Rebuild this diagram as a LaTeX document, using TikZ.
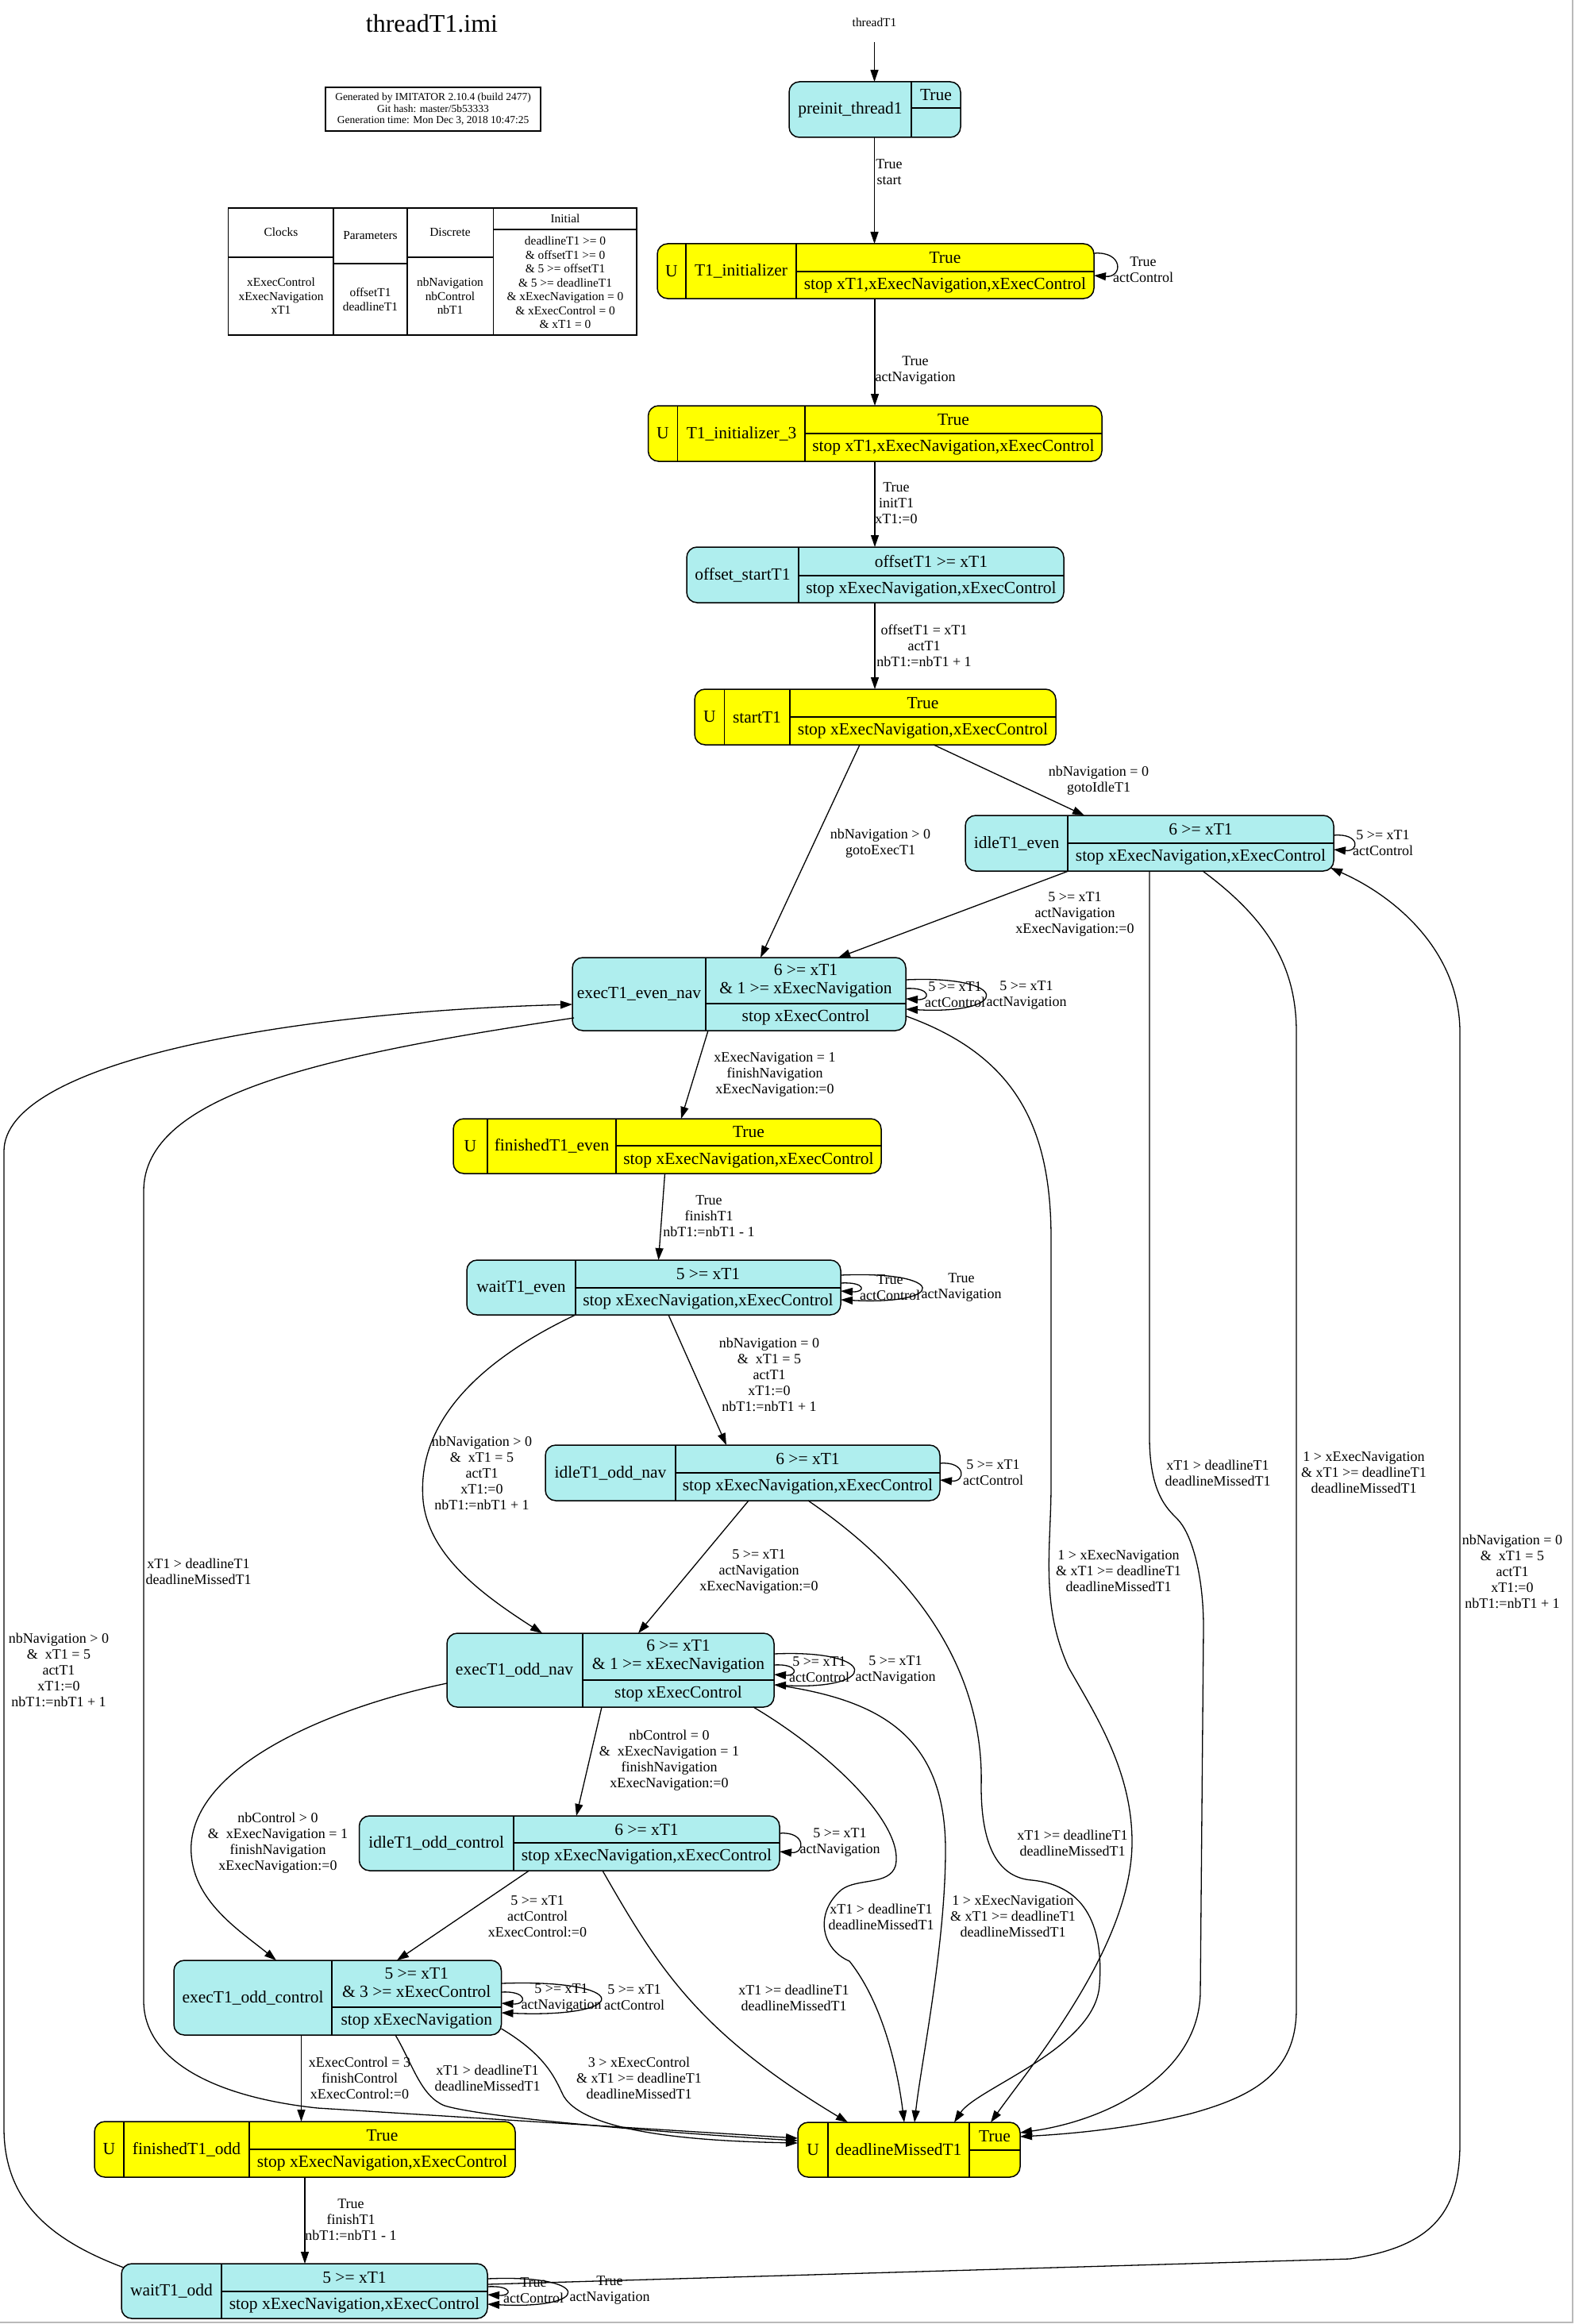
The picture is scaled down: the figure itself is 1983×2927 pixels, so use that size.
\documentclass[tikz,border=0pt]{standalone}
\usepackage{fontspec}
\setmainfont{Liberation Serif}
\usetikzlibrary{calc,arrows.meta}
\definecolor{cyanF}{HTML}{AFEEEE}
\definecolor{yelF}{HTML}{FFFF00}
\begin{document}
\begin{tikzpicture}[x=1pt,y=-1pt,
  box/.style={draw=black, line width=1.5pt, rounded corners=13pt, inner sep=0pt, outer sep=0pt},
  cy/.style={box, fill=cyanF},
  ye/.style={box, fill=yelF},
  dv/.style={line width=1.5pt},
  nt/.style={inner sep=0pt, font=\fontsize{21.5}{22.5}\selectfont, align=center},
  et/.style={inner sep=0pt, font=\fontsize{18}{20}\selectfont, align=center},
  tt/.style={inner sep=0pt, font=\fontsize{15.4}{17.5}\selectfont, align=center},
  ed/.style={line width=1.3pt, -{Triangle[length=15pt,width=10pt]}},
]
\fill[white] (0,0) rectangle (1983,2927);
\useasboundingbox (0,0) rectangle (1983,2927);
\draw[gray!55, line width=1.5pt] (1981,0) -- (1981,2925) -- (0,2925);

% ---------- header ----------
\node[inner sep=0pt, font=\fontsize{32}{34}\selectfont] (title) at (544,30) {threadT1.imi};
\node[draw, line width=1.3pt, minimum width=271pt, minimum height=55pt, inner sep=0pt] (gen) at (545.5,137.5) {};
\node[inner sep=0pt, font=\fontsize{13.5}{14.5}\selectfont, align=center] (gentxt) at (545.5,137.5)
  {Generated by IMITATOR 2.10.4 (build 2477)\\Git hash: master/5b53333\\Generation time: Mon Dec 3, 2018 10:47:25};

% table
\node[draw, line width=1.5pt, minimum width=514.5pt, minimum height=160pt, inner sep=0pt] (tab) at (544.75,342) {};
\draw[dv] (420,262) -- (420,422);
\draw[dv] (513,262) -- (513,422);
\draw[dv] (621.6,262) -- (621.6,422);
\draw[dv] (287.5,324) -- (420,324);
\draw[dv] (420,332) -- (513,332);
\draw[dv] (513,324) -- (621.6,324);
\draw[dv] (621.6,289) -- (802,289);
\node[tt] (thc) at (354,292) {Clocks};
\node[tt] (thp) at (466.5,297) {Parameters};
\node[tt] (thd) at (567,292) {Discrete};
\node[tt] (thi) at (712,275) {Initial};
\node[tt] (tbc) at (354,373) {xExecControl\\xExecNavigation\\xT1};
\node[tt] (tbp) at (466.5,377) {offsetT1\\deadlineT1};
\node[tt] (tbd) at (567,373) {nbNavigation\\nbControl\\nbT1};
\node[tt] (tbi) at (712,356) {deadlineT1 >= 0\\\& offsetT1 >= 0\\\& 5 >= offsetT1\\\& 5 >= deadlineT1\\\& xExecNavigation = 0\\\& xExecControl = 0\\\& xT1 = 0};

\node[inner sep=0pt, font=\fontsize{15.4}{17}\selectfont] (thread) at (1101.5,28) {threadT1};

% ---------- states ----------
% preinit_thread1
\node[cy, minimum width=216pt, minimum height=70pt] (preinit) at (1102,138) {};
\draw[dv] (1148,103) -- (1148,173); \draw[dv] (1148,136) -- (1210,136);
\node[nt] (preinitN) at (1071,138) {preinit\_thread1};
\node[nt] (preinitI) at (1179,120) {True};

% T1_initializer
\node[ye, minimum width=550pt, minimum height=69pt] (init) at (1103,341.5) {};
\draw[dv] (864,307) -- (864,376); \draw[dv] (1003,307) -- (1003,376); \draw[dv] (1003,342) -- (1378,342);
\node[nt] (initU) at (846,341.5) {U};
\node[nt] (initN) at (933.5,341.5) {T1\_initializer};
\node[nt] (initI) at (1190.5,324.5) {True};
\node[nt] (initS) at (1190.5,359) {stop xT1,xExecNavigation,xExecControl};

% T1_initializer_3
\node[ye, minimum width=571.5pt, minimum height=70pt] (init3) at (1102.25,546) {};
\draw[dv] (853.6,511) -- (853.6,581); \draw[dv] (1014,511) -- (1014,581); \draw[dv] (1014,546) -- (1388,546);
\node[nt] (init3U) at (835,546) {U};
\node[nt] (init3N) at (934,546) {T1\_initializer\_3};
\node[nt] (init3I) at (1201,528.5) {True};
\node[nt] (init3S) at (1201,563.5) {stop xT1,xExecNavigation,xExecControl};

% offset_startT1
\node[cy, minimum width=475pt, minimum height=70pt] (offset) at (1102.5,724) {};
\draw[dv] (1006,689) -- (1006,759); \draw[dv] (1006,725) -- (1340,725);
\node[nt] (offsetN) at (935.5,724) {offset\_startT1};
\node[nt] (offsetI) at (1173,707) {offsetT1 >= xT1};
\node[nt] (offsetS) at (1173,742) {stop xExecNavigation,xExecControl};

% startT1
\node[ye, minimum width=455pt, minimum height=70pt] (start) at (1102.5,903) {};
\draw[dv] (912.5,868) -- (912.5,938); \draw[dv] (995,868) -- (995,938); \draw[dv] (995,903) -- (1330,903);
\node[nt] (startU) at (894,903) {U};
\node[nt] (startN) at (953.5,903) {startT1};
\node[nt] (startI) at (1162.5,885.5) {True};
\node[nt] (startS) at (1162.5,920.5) {stop xExecNavigation,xExecControl};

% idleT1_even
\node[cy, minimum width=464pt, minimum height=70pt] (idleEven) at (1448,1062) {};
\draw[dv] (1345,1027) -- (1345,1097); \draw[dv] (1345,1062) -- (1680,1062);
\node[nt] (idleEvenN) at (1280.5,1062) {idleT1\_even};
\node[nt] (idleEvenI) at (1512.5,1044.5) {6 >= xT1};
\node[nt] (idleEvenS) at (1512.5,1079.5) {stop xExecNavigation,xExecControl};

% execT1_even_nav
\node[cy, minimum width=420pt, minimum height=92pt] (execEven) at (931,1252) {};
\draw[dv] (889,1206) -- (889,1298); \draw[dv] (889,1264) -- (1141,1264);
\node[nt] (execEvenN) at (805,1252) {execT1\_even\_nav};
\node[nt] (execEvenI) at (1015,1235) {6 >= xT1\\\& 1 >= xExecNavigation};
\node[nt] (execEvenS) at (1015,1281) {stop xExecControl};

% finishedT1_even
\node[ye, minimum width=539pt, minimum height=69pt] (finEven) at (840.5,1443.5) {};
\draw[dv] (614,1409) -- (614,1478); \draw[dv] (776,1409) -- (776,1478); \draw[dv] (776,1443) -- (1110,1443);
\node[nt] (finEvenU) at (592.5,1443.5) {U};
\node[nt] (finEvenN) at (695,1443.5) {finishedT1\_even};
\node[nt] (finEvenI) at (943,1426) {True};
\node[nt] (finEvenS) at (943,1461) {stop xExecNavigation,xExecControl};

% waitT1_even
\node[cy, minimum width=471pt, minimum height=69pt] (waitEven) at (823.5,1621.5) {};
\draw[dv] (725,1587) -- (725,1656); \draw[dv] (725,1622) -- (1059,1622);
\node[nt] (waitEvenN) at (656.5,1621.5) {waitT1\_even};
\node[nt] (waitEvenI) at (892,1604.5) {5 >= xT1};
\node[nt] (waitEvenS) at (892,1639) {stop xExecNavigation,xExecControl};

% idleT1_odd_nav
\node[cy, minimum width=497pt, minimum height=70pt] (idleOddNav) at (935.5,1855) {};
\draw[dv] (851,1820) -- (851,1890); \draw[dv] (851,1855) -- (1184,1855);
\node[nt] (idleOddNavN) at (769,1855) {idleT1\_odd\_nav};
\node[nt] (idleOddNavI) at (1017.5,1837.5) {6 >= xT1};
\node[nt] (idleOddNavS) at (1017.5,1872.5) {stop xExecNavigation,xExecControl};

% execT1_odd_nav
\node[cy, minimum width=412pt, minimum height=93pt] (execOddNav) at (769,2103.5) {};
\draw[dv] (734,2057) -- (734,2150); \draw[dv] (734,2116) -- (975,2116);
\node[nt] (execOddNavN) at (648,2103.5) {execT1\_odd\_nav};
\node[nt] (execOddNavI) at (854.5,2086) {6 >= xT1\\\& 1 >= xExecNavigation};
\node[nt] (execOddNavS) at (854.5,2133) {stop xExecControl};

% idleT1_odd_control
\node[cy, minimum width=529.5pt, minimum height=69pt] (idleOddCtl) at (717.25,2321.5) {};
\draw[dv] (647,2287) -- (647,2356); \draw[dv] (647,2321) -- (982,2321);
\node[nt] (idleOddCtlN) at (549.75,2321.5) {idleT1\_odd\_control};
\node[nt] (idleOddCtlI) at (814.5,2304) {6 >= xT1};
\node[nt] (idleOddCtlS) at (814.5,2338.5) {stop xExecNavigation,xExecControl};

% execT1_odd_control
\node[cy, minimum width=412.5pt, minimum height=94pt] (execOddCtl) at (425.25,2516) {};
\draw[dv] (418,2469) -- (418,2563); \draw[dv] (418,2528) -- (631.5,2528);
\node[nt] (execOddCtlN) at (318.5,2516) {execT1\_odd\_control};
\node[nt] (execOddCtlI) at (524.75,2497) {5 >= xT1\\\& 3 >= xExecControl};
\node[nt] (execOddCtlS) at (524.75,2545.5) {stop xExecNavigation};

% finishedT1_odd
\node[ye, minimum width=530pt, minimum height=70pt] (finOdd) at (384,2707) {};
\draw[dv] (156,2672) -- (156,2742); \draw[dv] (314,2672) -- (314,2742); \draw[dv] (314,2707) -- (649,2707);
\node[nt] (finOddU) at (137.5,2707) {U};
\node[nt] (finOddN) at (235,2707) {finishedT1\_odd};
\node[nt] (finOddI) at (481.5,2689.5) {True};
\node[nt] (finOddS) at (481.5,2724.5) {stop xExecNavigation,xExecControl};

% waitT1_odd
\node[cy, minimum width=461pt, minimum height=69pt] (waitOdd) at (383.5,2885.5) {};
\draw[dv] (279,2851) -- (279,2920); \draw[dv] (279,2886) -- (614,2886);
\node[nt] (waitOddN) at (216,2885.5) {waitT1\_odd};
\node[nt] (waitOddI) at (446.5,2868.5) {5 >= xT1};
\node[nt] (waitOddS) at (446.5,2903) {stop xExecNavigation,xExecControl};

% deadlineMissedT1
\node[ye, minimum width=280pt, minimum height=69pt] (dead) at (1145,2707.5) {};
\draw[dv] (1043,2673) -- (1043,2742); \draw[dv] (1221,2673) -- (1221,2742); \draw[dv] (1221,2708) -- (1285,2708);
\node[nt] (deadU) at (1024,2707.5) {U};
\node[nt] (deadN) at (1132,2707.5) {deadlineMissedT1};
\node[nt] (deadI) at (1253,2690.5) {True};

% ---------- straight edges ----------
\draw[ed] ($(thread.center)+(0,25)$) -- ($(preinit.north west)+(107.5,0)$);
\draw[ed] ($(preinit.south west)+(107.5,0)$) -- ($(init.north west)+(273.5,0)$);
\node[et] (l1) at (1120,217) {True\\start};
\draw[ed] ($(init.south west)+(274,0)$) -- ($(init3.north west)+(285.5,0)$);
\node[et] (l2) at (1153,467) {True\\actNavigation};
\draw[ed] ($(init3.south west)+(285.5,0)$) -- ($(offset.north west)+(237,0)$);
\node[et] (l3) at (1129,634) {True\\initT1\\xT1:=0};
\draw[ed] ($(offset.south west)+(237,0)$) -- ($(start.north west)+(227,0)$);
\node[et] (l4) at (1164,813) {offsetT1 = xT1\\actT1\\nbT1:=nbT1 + 1};
\draw[ed] ($(start.south west)+(208,0)$) -- ($(execEven.north west)+(237,0)$);
\node[et] (l5) at (1109,1062) {nbNavigation > 0\\gotoExecT1};
\draw[ed] ($(start.south west)+(301,0)$) -- ($(idleEven.north west)+(150,0)$);
\node[et] (l6) at (1384,983) {nbNavigation = 0\\gotoIdleT1};
\draw[ed] ($(idleEven.south west)+(130,0)$) -- ($(execEven.north west)+(335,0)$);
\node[et] (l7) at (1354,1151) {5 >= xT1\\actNavigation\\xExecNavigation:=0};
\draw[ed] ($(execEven.south west)+(171,0)$) -- ($(finEven.north west)+(287,0)$);
\node[et] (l8) at (976,1353) {xExecNavigation = 1\\finishNavigation\\xExecNavigation:=0};
\draw[ed] ($(finEven.south west)+(266.5,0)$) -- ($(waitEven.north west)+(241.5,0)$);
\node[et] (l9) at (893,1532) {True\\finishT1\\nbT1:=nbT1 - 1};
\draw[ed] ($(waitEven.south west)+(254,0)$) -- ($(idleOddNav.north west)+(228,0)$);
\node[et] (l10) at (969,1731) {nbNavigation = 0\\\&\ \ xT1 = 5\\actT1\\xT1:=0\\nbT1:=nbT1 + 1};
\draw[ed] ($(waitEven.south west)+(137,0)$) .. controls (590,1720) and (525,1800) .. (533,1890) .. controls (540,1960) and (610,2010) .. ($(execOddNav.north west)+(120,0)$);
\node[et] (l11) at (607,1855) {nbNavigation > 0\\\&\ \ xT1 = 5\\actT1\\xT1:=0\\nbT1:=nbT1 + 1};
\draw[ed] ($(idleOddNav.south west)+(256,0)$) -- ($(execOddNav.north west)+(241,0)$);
\node[et] (l12) at (956,1979) {5 >= xT1\\actNavigation\\xExecNavigation:=0};
\draw[ed] ($(execOddNav.south west)+(195,0)$) -- ($(idleOddCtl.north west)+(273.5,0)$);
\node[et] (l13) at (843,2217) {nbControl = 0\\\&\ \ xExecNavigation = 1\\finishNavigation\\xExecNavigation:=0};
\draw[ed] ($(execOddNav.north west)+(0,63)$) .. controls (420,2150) and (250,2220) .. (241,2321) .. controls (236,2390) and (300,2430) .. ($(execOddCtl.north west)+(129,0)$);
\node[et] (l14) at (350,2321) {nbControl > 0\\\&\ \ xExecNavigation = 1\\finishNavigation\\xExecNavigation:=0};
\draw[ed] ($(idleOddCtl.south west)+(214,0)$) -- ($(execOddCtl.north west)+(281,0)$);
\node[et] (l15) at (677,2414) {5 >= xT1\\actControl\\xExecControl:=0};
\draw[ed] ($(execOddCtl.south west)+(160.5,0)$) -- ($(finOdd.north west)+(260.5,0)$);
\node[et] (l16) at (453,2617) {xExecControl = 3\\finishControl\\xExecControl:=0};
\draw[ed] ($(finOdd.south west)+(265,0)$) -- ($(waitOdd.north west)+(231,0)$);
\node[et] (l17) at (442,2796) {True\\finishT1\\nbT1:=nbT1 - 1};

% long edges waitT1_odd
\draw[ed] ($(waitOdd.north west)+(3,5)$) .. controls (60,2820) and (5,2770) .. (5,2680) -- (5,1450) .. controls (5,1340) and (350,1275) .. ($(execEven.north west)+(0,59)$);
\node[et] (l18) at (74,2103) {nbNavigation > 0\\\&\ \ xT1 = 5\\actT1\\xT1:=0\\nbT1:=nbT1 + 1};
\draw[ed] ($(waitOdd.north east)+(0,26)$) -- (1700,2845) .. controls (1800,2830) and (1839,2790) .. (1839,2700) -- (1839,1300) .. controls (1839,1200) and (1760,1130) .. ($(idleEven.south east)+(-4,-4)$);
\node[et] (l19) at (1905,1979) {nbNavigation = 0\\\&\ \ xT1 = 5\\actT1\\xT1:=0\\nbT1:=nbT1 + 1};

% ---------- deadline edges ----------
\draw[ed] ($(execEven.north west)+(2,76)$) .. controls (400,1330) and (181,1380) .. (181,1500) -- (181,2520) .. controls (181,2590) and (260,2640) .. (400,2655) -- ($(dead.north west)+(0,20)$);
\node[et] (d1) at (250,1979) {xT1 > deadlineT1\\deadlineMissedT1};
\draw[ed] ($(execEven.north east)+(1,74)$) .. controls (1280,1330) and (1324,1420) .. (1324,1560) -- (1324,1870) .. controls (1324,1950) and (1310,2020) .. (1346,2100) .. controls (1380,2160) and (1426,2230) .. (1426,2320) .. controls (1426,2450) and (1300,2600) .. ($(dead.north west)+(243,0)$);
\node[et] (d2) at (1409,1979) {1 > xExecNavigation\\\& xT1 >= deadlineT1\\deadlineMissedT1};
\draw[ed] ($(idleEven.south west)+(232,0)$) -- (1448,1810) .. controls (1448,1880) and (1470,1900) .. (1483,1913) .. controls (1500,1930) and (1516,1980) .. (1516,2050) -- (1512,2510) .. controls (1510,2610) and (1400,2670) .. ($(dead.north east)+(0,13)$);
\node[et] (d3) at (1534,1855) {xT1 > deadlineT1\\deadlineMissedT1};
\draw[ed] ($(idleEven.south west)+(299,0)$) .. controls (1600,1160) and (1633,1220) .. (1633,1300) -- (1633,2530) .. controls (1633,2610) and (1580,2640) .. (1500,2662) .. controls (1420,2682) and (1340,2688) .. ($(dead.north east)+(0,18)$);
\node[et] (d4) at (1718,1855) {1 > xExecNavigation\\\& xT1 >= deadlineT1\\deadlineMissedT1};
\draw[ed] ($(idleOddNav.south west)+(331,0)$) .. controls (1150,1980) and (1240,2100) .. (1236,2250) .. controls (1236,2330) and (1260,2365) .. (1300,2368) .. controls (1370,2375) and (1390,2430) .. (1385,2500) .. controls (1380,2580) and (1230,2630) .. ($(dead.north west)+(197,0)$);
\node[et] (d5) at (1351,2321) {xT1 >= deadlineT1\\deadlineMissedT1};
\draw[ed] ($(execOddNav.south east)+(-26,0)$) .. controls (1050,2210) and (1140,2300) .. (1128,2350) .. controls (1120,2375) and (1080,2365) .. (1060,2380) .. controls (1025,2410) and (1035,2455) .. (1070,2470) .. controls (1110,2520) and (1130,2600) .. ($(dead.north west)+(134,0)$);
\node[et] (d6) at (1110,2414) {xT1 > deadlineT1\\deadlineMissedT1};
\draw[ed] ($(execOddNav.north east)+(2,65)$) .. controls (1100,2140) and (1191,2180) .. (1191,2330) .. controls (1191,2450) and (1160,2600) .. ($(dead.north west)+(147,0)$);
\node[et] (d7) at (1276,2414) {1 > xExecNavigation\\\& xT1 >= deadlineT1\\deadlineMissedT1};
\draw[ed] ($(idleOddCtl.south west)+(306.5,0)$) .. controls (830,2480) and (880,2560) .. ($(dead.north west)+(63,0)$);
\node[et] (d8) at (1000,2516) {xT1 >= deadlineT1\\deadlineMissedT1};
\draw[ed] ($(execOddCtl.south west)+(279,0)$) .. controls (520,2600) and (530,2640) .. (560,2652) .. controls (620,2670) and (900,2690) .. ($(dead.north west)+(0,23)$);
\node[et] (d9) at (614,2617) {xT1 > deadlineT1\\deadlineMissedT1};
\draw[ed] ($(execOddCtl.south east)+(0,-8)$) .. controls (690,2590) and (700,2620) .. (710,2640) .. controls (740,2690) and (900,2697) .. ($(dead.north west)+(0,26)$);
\node[et] (d10) at (805,2617) {3 > xExecControl\\\& xT1 >= deadlineT1\\deadlineMissedT1};

% ---------- self loops ----------
\draw[ed] ($(init.north east)+(0,12)$) .. controls +(37,-3) and +(37,3) .. ($(init.north east)+(0,40)$);
\node[et] (s1) at (1440,340) {True\\actControl};
\draw[ed] ($(idleEven.north east)+(0,25)$) .. controls +(33,-3) and +(33,3) .. ($(idleEven.north east)+(0,43)$);
\node[et] (s2) at (1742,1062) {5 >= xT1\\actControl};
\draw[ed] ($(execEven.north east)+(0,28)$) .. controls +(133,-6) and +(133,7) .. ($(execEven.north east)+(0,65)$);
\draw[ed] ($(execEven.north east)+(0,39)$) .. controls +(32,-2) and +(32,2) .. ($(execEven.north east)+(0,52)$);
\node[et] (s3) at (1203,1253) {5 >= xT1\\actControl};
\node[et] (s4) at (1293,1253) {5 >= xT1\\actNavigation};
\draw[ed] ($(waitEven.north east)+(0,19)$) .. controls +(135,-6) and +(135,7) .. ($(waitEven.north east)+(0,50)$);
\draw[ed] ($(waitEven.north east)+(0,29)$) .. controls +(32,-2) and +(32,2) .. ($(waitEven.north east)+(0,39)$);
\node[et] (s5) at (1121,1622) {True\\actControl};
\node[et] (s6) at (1211,1622) {True\\actNavigation};
\draw[ed] ($(idleOddNav.north east)+(0,23)$) .. controls +(33,-3) and +(33,3) .. ($(idleOddNav.north east)+(0,44)$);
\node[et] (s7) at (1251,1855) {5 >= xT1\\actControl};
\draw[ed] ($(execOddNav.north east)+(0,26)$) .. controls +(133,-6) and +(133,7) .. ($(execOddNav.north east)+(0,65)$);
\draw[ed] ($(execOddNav.north east)+(0,40)$) .. controls +(31,-2) and +(31,2) .. ($(execOddNav.north east)+(0,52)$);
\node[et] (s8) at (1032,2103) {5 >= xT1\\actControl};
\node[et] (s9) at (1128,2103) {5 >= xT1\\actNavigation};
\draw[ed] ($(idleOddCtl.north east)+(0,22)$) .. controls +(33,-3) and +(33,3) .. ($(idleOddCtl.north east)+(0,45)$);
\node[et] (s10) at (1058,2320) {5 >= xT1\\actNavigation};
\draw[ed] ($(execOddCtl.north east)+(0,29)$) .. controls +(166,-6) and +(166,7) .. ($(execOddCtl.north east)+(0,66)$);
\draw[ed] ($(execOddCtl.north east)+(0,40)$) .. controls +(33,-2) and +(33,2) .. ($(execOddCtl.north east)+(0,54)$);
\node[et] (s11) at (707,2516) {5 >= xT1\\actNavigation};
\node[et] (s12) at (799,2516) {5 >= xT1\\actControl};
\draw[ed] ($(waitOdd.north east)+(0,19)$) .. controls +(133,-6) and +(133,7) .. ($(waitOdd.north east)+(0,51)$);
\draw[ed] ($(waitOdd.north east)+(0,29)$) .. controls +(32,-2) and +(32,2) .. ($(waitOdd.north east)+(0,39)$);
\node[et] (s13) at (672,2885) {True\\actControl};
\node[et] (s14) at (768,2885) {True\\actNavigation};
\end{tikzpicture}
\end{document}
